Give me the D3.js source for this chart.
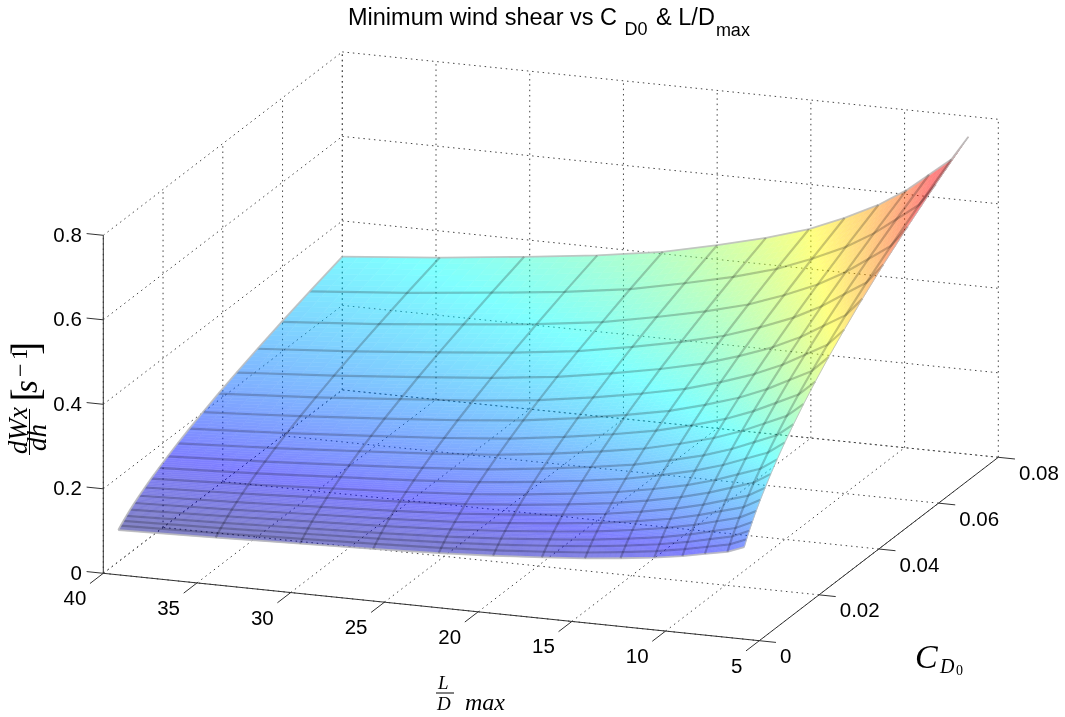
<!DOCTYPE html>
<html>
<head>
<meta charset="utf-8">
<script src="https://cdn.jsdelivr.net/npm/d3@7"></script>
<style>
body { margin: 0; background: #fff; }
svg { display: block; filter: blur(0.35px); }
text { font-family: "Liberation Sans", sans-serif; fill: #000; }
.math { font-family: "Liberation Serif", serif; font-style: italic; }
.roman { font-family: "Liberation Serif", serif; }
.grid { fill: none; stroke: #444; stroke-width: 1; stroke-dasharray: 1.5 3.8; }
.axis { fill: none; stroke: #333; stroke-width: 1; }
</style>
</head>
<body>
<div class="chart"></div>
<script>
// tick values
const xTicks = [40, 35, 30, 25, 20, 15, 10, 5];
const yTicks = [0, 0.02, 0.04, 0.06, 0.08];
const zTicks = [0, 0.2, 0.4, 0.6, 0.8];

// surface grid
const ldMax = [40, 34.8, 30.3, 26.4, 22.9, 20, 17.4, 15.1, 13.2, 11.4, 9.9, 8.7, 7.5, 6.6];
const cd0 = [0.005, 0.0058, 0.0067, 0.0077, 0.009, 0.0104, 0.012, 0.0139, 0.016, 0.0186,
             0.0215, 0.0249, 0.0288, 0.0333, 0.0385, 0.0446, 0.0516, 0.0597, 0.0691, 0.08];

// one row per cd0 value, one column per ldMax value
const shear = [
  [.0753,.0810,.0873,.0926,.0987,.1056,.1136,.1217,.1306,.1403,.1509,.1614,.1718,.1868],
  [.0814,.0875,.0943,.1000,.1065,.1140,.1226,.1312,.1408,.1513,.1628,.1740,.1852,.2014],
  [.0876,.0943,.1015,.1076,.1147,.1227,.1319,.1412,.1515,.1628,.1750,.1871,.1993,.2165],
  [.0941,.1011,.1088,.1154,.1230,.1316,.1414,.1513,.1623,.1744,.1875,.2005,.2135,.2319],
  [.1021,.1096,.1179,.1250,.1331,.1425,.1531,.1638,.1758,.1889,.2031,.2171,.2311,.2510],
  [.1100,.1181,.1269,.1345,.1433,.1535,.1647,.1763,.1890,.2031,.2184,.2335,.2485,.2699],
  [.1184,.1270,.1364,.1446,.1541,.1650,.1770,.1893,.2031,.2182,.2345,.2508,.2670,.2897],
  [.1277,.1371,.1471,.1560,.1661,.1779,.1908,.2040,.2188,.2351,.2527,.2701,.2876,.3121],
  [.1374,.1474,.1581,.1676,.1785,.1911,.2049,.2191,.2349,.2524,.2712,.2899,.3087,.3350],
  [.1485,.1592,.1708,.1810,.1927,.2064,.2211,.2364,.2534,.2723,.2926,.3128,.3330,.3613],
  [.1599,.1715,.1837,.1947,.2073,.2221,.2379,.2542,.2727,.2929,.3147,.3364,.3581,.3883],
  [.1726,.1849,.1980,.2099,.2234,.2394,.2563,.2738,.2937,.3154,.3390,.3623,.3857,.4182],
  [.1862,.1992,.2133,.2260,.2406,.2578,.2759,.2948,.3160,.3394,.3647,.3898,.4149,.4499],
  [.2006,.2148,.2298,.2435,.2592,.2776,.2971,.3172,.3400,.3652,.3924,.4194,.4464,.4840],
  [.2162,.2313,.2474,.2621,.2790,.2988,.3196,.3412,.3659,.3930,.4220,.4511,.4803,.5203],
  [.2332,.2496,.2667,.2826,.3007,.3223,.3445,.3677,.3941,.4232,.4545,.4858,.5172,.5603],
  [.2515,.2690,.2872,.3042,.3238,.3472,.3708,.3958,.4242,.4555,.4894,.5230,.5566,.6030],
  [.2712,.2897,.3093,.3276,.3486,.3738,.3992,.4258,.4564,.4901,.5265,.5626,.5988,.6486],
  [.2923,.3126,.3334,.3531,.3757,.4028,.4298,.4588,.4916,.5279,.5668,.6057,.6449,.6980],
  [.3153,.3368,.3592,.3804,.4047,.4338,.4629,.4938,.5291,.5681,.6100,.6519,.6940,.7511]
];

const jetStops = [0, 0.125, 0.375, 0.625, 0.875, 1];
const jetColors = ['#000080', '#0000ff', '#00ffff', '#ffff00', '#ff0000', '#800000'];

const width = 1065;
const height = 717;

const svg = d3.select('.chart').append('svg')
  .attr('width', width)
  .attr('height', height);

// the view is orthographic so each data axis is just a straight screen vector
const origin = [103.3, 573.3];
const xToPx = d3.scaleLinear().domain([40, 5]).range([0, 656]);
const xToPy = d3.scaleLinear().domain([40, 5]).range([0, 67.4]);
const yToPx = d3.scaleLinear().domain([0, 0.08]).range([0, 239]);
const yToPy = d3.scaleLinear().domain([0, 0.08]).range([0, -183.4]);
const zToPy = d3.scaleLinear().domain([0, 0.8]).range([0, -338]);

function project(x, y, z) {
  return [origin[0] + xToPx(x) + yToPx(y), origin[1] + xToPy(x) + yToPy(y) + zToPy(z)];
}

const line = d3.line();

// color runs over the range of the surface
const zMin = d3.min(shear, r => d3.min(r));
const zMax = d3.max(shear, r => d3.max(r));
const jet = d3.scaleLinear()
  .domain(jetStops.map(s => zMin + s * (zMax - zMin)))
  .range(jetColors)
  .clamp(true);

// dotted grid on floor and the two back walls
const gridG = svg.append('g').attr('class', 'grid');
function gridLine(a, b) {
  gridG.append('path').attr('d', line([project(...a), project(...b)]));
}
xTicks.forEach(x => {
  gridLine([x, 0, 0], [x, 0.08, 0]);
  gridLine([x, 0.08, 0], [x, 0.08, 0.8]);
});
yTicks.forEach(y => {
  gridLine([5, y, 0], [40, y, 0]);
  gridLine([40, y, 0], [40, y, 0.8]);
});
zTicks.forEach(z => {
  gridLine([40, 0, z], [40, 0.08, z]);
  gridLine([40, 0.08, z], [5, 0.08, z]);
});

// axis lines and ticks
const axisG = svg.append('g').attr('class', 'axis');
function axisLine(a, b) {
  axisG.append('path').attr('d', line([project(...a), project(...b)]));
}
axisLine([40, 0, 0], [40, 0, 0.8]);
axisLine([40, 0, 0], [5, 0, 0]);
axisLine([5, 0, 0], [5, 0.08, 0]);
zTicks.forEach(z => axisLine([40, 0, z], [40.89, 0, z]));
xTicks.forEach(x => axisLine([x, 0, 0], [x, -0.00446, 0]));
yTicks.forEach(y => axisLine([5, y, 0], [4.11, y, 0]));

// surface, each cell cut into small quads so the color looks interpolated
// group opacity keeps the seams between quads from showing
const surfaceG = svg.append('g').attr('opacity', 0.5);
const steps = 6;
for (let i = cd0.length - 2; i >= 0; i--) {
  for (let j = 0; j < ldMax.length - 1; j++) {
    const corner = (s, t) => {
      const x = ldMax[j] + (ldMax[j + 1] - ldMax[j]) * s;
      const y = cd0[i] + (cd0[i + 1] - cd0[i]) * t;
      const z = (shear[i][j] * (1 - s) + shear[i][j + 1] * s) * (1 - t)
              + (shear[i + 1][j] * (1 - s) + shear[i + 1][j + 1] * s) * t;
      return { p: project(x, y, z), z: z };
    };
    for (let a = 0; a < steps; a++) {
      for (let b = 0; b < steps; b++) {
        const c = corner((a + 0.5) / steps, (b + 0.5) / steps);
        const col = jet(c.z);
        surfaceG.append('path')
          .attr('d', line([
            corner(a / steps, b / steps).p,
            corner((a + 1) / steps, b / steps).p,
            corner((a + 1) / steps, (b + 1) / steps).p,
            corner(a / steps, (b + 1) / steps).p
          ]) + 'Z')
          .style('fill', col)
          .style('stroke', col)
          .style('stroke-width', 0.6);
      }
    }
  }
}

// mesh lines, inner ones see through and the outline in light grey
const meshG = svg.append('g')
  .style('fill', 'none')
  .style('stroke-linejoin', 'round');
function meshLine(points, edgeWidth) {
  meshG.append('path').attr('d', line(points))
    .style('stroke', edgeWidth ? '#bdbdbd' : '#000')
    .style('stroke-opacity', edgeWidth ? 0.85 : 0.21)
    .style('stroke-width', edgeWidth || 2.2);
}
cd0.forEach((y, i) => {
  const edge = i === 0 || i === cd0.length - 1;
  meshLine(ldMax.map((x, j) => project(x, y, shear[i][j])), edge ? 1.8 : 0);
});
ldMax.forEach((x, j) => {
  // right hand edge is thinner so the red tip stays visible
  const edgeWidth = j === 0 ? 1.8 : (j === ldMax.length - 1 ? 1 : 0);
  meshLine(cd0.map((y, i) => project(x, y, shear[i][j])), edgeWidth);
});

// tick labels
const labelSize = 20.5;
zTicks.forEach(z => {
  const p = project(40, 0, z);
  svg.append('text').attr('x', p[0] - 21.5).attr('y', p[1] + 6.2)
    .attr('text-anchor', 'end').style('font-size', labelSize + 'px').text(z);
});
xTicks.forEach(x => {
  const p = project(x, 0, 0);
  svg.append('text').attr('x', p[0] - 17).attr('y', p[1] + 32)
    .attr('text-anchor', 'end').style('font-size', labelSize + 'px').text(x);
});
yTicks.forEach(y => {
  const p = project(5, y, 0);
  svg.append('text').attr('x', p[0] + 20.7).attr('y', p[1] + 22.5)
    .style('font-size', labelSize + 'px').text(y);
});

// title
const title = svg.append('text').attr('x', 348).attr('y', 25).style('font-size', '23.5px');
title.append('tspan').text('Minimum wind shear vs C ');
title.append('tspan').attr('dx', 1).attr('dy', 10).style('font-size', '18px').text('D0');
title.append('tspan').attr('dx', 2).attr('dy', -10).text(' & L/D');
title.append('tspan').attr('dx', 1).attr('dy', 11).style('font-size', '18px').text('max');

// axis titles
function mathText(g, x, y, size, str) {
  g.append('text').attr('class', 'math').attr('x', x).attr('y', y)
    .style('font-size', size + 'px').text(str);
}
function romanText(g, x, y, size, str) {
  g.append('text').attr('class', 'roman').attr('x', x).attr('y', y)
    .style('font-size', size + 'px').text(str);
}

// C_D0
mathText(svg, 915, 668, 34, 'C');
mathText(svg, 940, 673, 20, 'D');
romanText(svg, 956, 675, 14, '0');

// L/D max
mathText(svg, 438, 689, 19, 'L');
svg.append('line').attr('x1', 436).attr('x2', 454).attr('y1', 693).attr('y2', 693)
  .style('stroke', '#000').style('stroke-width', 1);
mathText(svg, 437, 710, 19, 'D');
mathText(svg, 465, 710, 24, 'max');

// dWx/dh [s^-1], rotated
const zLabel = svg.append('g').attr('transform', 'translate(0,453) rotate(-90)');
mathText(zLabel, -1, 27, 26.5, 'dWx');
zLabel.append('line').attr('x1', -2).attr('x2', 44).attr('y1', 29.5).attr('y2', 29.5)
  .style('stroke', '#000').style('stroke-width', 1);
mathText(zLabel, 2, 46, 27, 'dh');
romanText(zLabel, 51.5, 38.8, 40, '[');
mathText(zLabel, 60, 37, 33, 's');
romanText(zLabel, 76, 28, 24, '\u2212');
romanText(zLabel, 93, 27, 23, '1');
romanText(zLabel, 98, 38.8, 40, ']');
</script>
</body>
</html>
